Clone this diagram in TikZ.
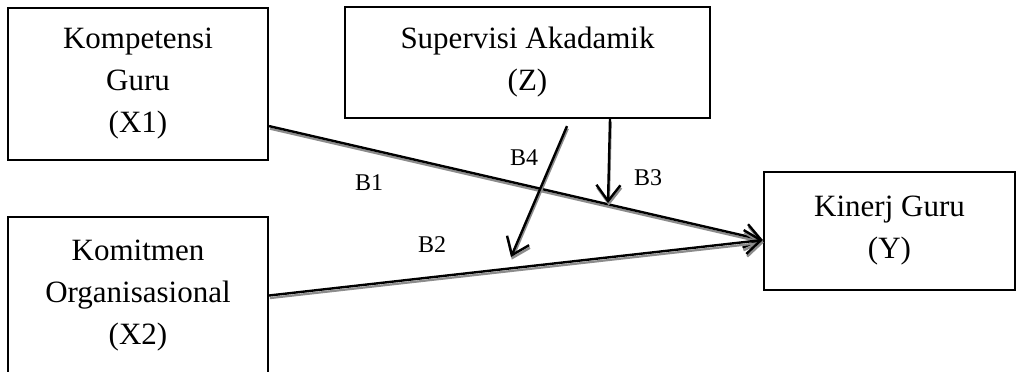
\documentclass[tikz,border=0pt]{standalone}
\usepackage{fontspec}
\setmainfont{Liberation Serif}
\usetikzlibrary{arrows.meta,calc}

\begin{document}
\begin{tikzpicture}[x=1pt,y=-1pt,
  varbox/.style={draw=black,line width=2.2pt,rectangle,inner sep=0pt,
    align=center,font=\fontsize{31}{42}\selectfont},
  coef/.style={font=\fontsize{24}{28}\selectfont,inner sep=0pt,anchor=base},
  path/.style={line width=2.4pt,draw=black,
    -{Straight Barb[length=16pt,width=24pt,line width=2.4pt]},
    preaction={draw=black!45,line width=2.2pt,
      transform canvas={shift={(0.8pt,-2.6pt)}}}}
]
\clip (0,0) rectangle (1017,372);

% variables
\node[varbox,minimum width=260pt,minimum height=152pt] (x1) at (138,84)
  {Kompetensi\\Guru\\(X1)};
\node[varbox,minimum width=365pt,minimum height=111pt] (z) at (527.5,62.5)
  {Supervisi Akadamik\\(Z)};
\node[varbox,minimum width=260pt,minimum height=157pt] (x2) at (138,295.5)
  {Komitmen\\Organisasional\\(X2)};
\node[varbox,minimum width=251pt,minimum height=118pt] (y) at (889.5,231)
  {Kinerj Guru\\(Y)};

% end points of the paths
\coordinate (x1out) at ($(x1.south east)+(0pt,35pt)$);
\coordinate (yin) at ($(y.west)+(0pt,-9pt)$);
\coordinate (zb3) at ($(z.south)+(82.5pt,0pt)$);
\coordinate (zb4) at ($(z.south)+(39.5pt,-7pt)$);
\coordinate (b3tip) at (608,203);
\coordinate (b4tip) at (511,257);

% direct effects
\draw[path] (x1out) -- (yin);
\draw[path] (x2.east) -- (yin);

% moderating effects
\draw[path] (zb3) -- (b3tip);
\draw[path] (zb4) -- (b4tip);

% coefficients
\node[coef] (b1) at (369,190) {B1};
\node[coef] (b2) at (432,252) {B2};
\node[coef] (b3) at (648,185) {B3};
\node[coef] (b4) at (524,165) {B4};
\end{tikzpicture}
\end{document}
